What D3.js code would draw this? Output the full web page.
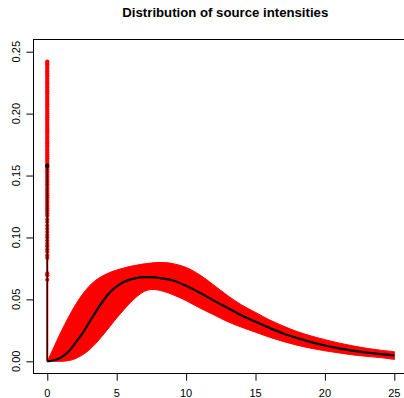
<!DOCTYPE html>
<html>
<head>
<meta charset="utf-8">
<script src="https://cdn.jsdelivr.net/npm/d3@7"></script>
<style>
  html, body { margin: 0; padding: 0; background: #fff; }
  svg { display: block; font-family: "Liberation Sans", Arial, Helvetica, sans-serif; }
</style>
</head>
<body>
<svg id="chart" width="404" height="398"></svg>
<script>
// Axis ticks
const xTicks = [0, 5, 10, 15, 20, 25];
const xTickLabels = ["0", "5", "10", "15", "20", "25"];
const yTicks = [0, 0.05, 0.10, 0.15, 0.20, 0.25];
const yTickLabels = ["0.00", "0.05", "0.10", "0.15", "0.20", "0.25"];

// Intensity grid shared by the density curves
const grid = [0, 0.5, 1, 1.5, 2, 2.5, 3, 3.5, 4, 4.5, 5, 5.5, 6, 6.5, 7, 7.5, 8, 8.5, 9,
              10, 11, 12, 13, 14, 15, 16, 17, 18, 19, 20, 21, 22, 23, 24, 25];

// Upper and lower edges of the bundle of sampled densities
const upperDensity = [0, 0.012, 0.024, 0.035, 0.045, 0.0535, 0.0605, 0.0655, 0.069, 0.0717, 0.0737, 0.0753, 0.0767, 0.0778, 0.0787, 0.0794, 0.0798, 0.0797, 0.079,
                      0.0758, 0.0697, 0.0615, 0.053, 0.0455, 0.0395, 0.0335, 0.0285, 0.024, 0.0205, 0.0175, 0.0148, 0.0125, 0.0105, 0.009, 0.0078];
const lowerDensity = [0, 0, 0, 0.0005, 0.002, 0.005, 0.009, 0.0145, 0.021, 0.028, 0.035, 0.0415, 0.0475, 0.0527, 0.0565, 0.058, 0.0575, 0.056, 0.054,
                      0.049, 0.043, 0.0375, 0.032, 0.0275, 0.0235, 0.0195, 0.016, 0.013, 0.0105, 0.0085, 0.0068, 0.0052, 0.004, 0.003, 0.0015];

// Posterior mean density
const meanDensity = [0, 0.0009, 0.0032, 0.0075, 0.0145, 0.022, 0.031, 0.040, 0.0485, 0.0555, 0.0605, 0.064, 0.0662, 0.0674, 0.0679, 0.0679, 0.0674, 0.0666, 0.0655,
                     0.061, 0.0553, 0.049, 0.043, 0.037, 0.032, 0.027, 0.0225, 0.0188, 0.0155, 0.0128, 0.0105, 0.0087, 0.0071, 0.0058, 0.0047];

// Sampled probability mass at zero intensity, and its mean
const zeroMass = [0.242, 0.241, 0.2398, 0.2385, 0.237, 0.2355, 0.234, 0.2325, 0.231, 0.2295, 0.228, 0.2265, 0.225, 0.224, 0.2225, 0.221,
                  0.2195, 0.218, 0.2165, 0.215, 0.2135, 0.212, 0.2105, 0.209, 0.2075, 0.206, 0.2045, 0.203, 0.2015, 0.2,
                  0.1985, 0.197, 0.1955, 0.194, 0.1925, 0.191, 0.1895, 0.188, 0.1865, 0.185, 0.1835, 0.182, 0.1805, 0.179,
                  0.1775, 0.176, 0.1745, 0.173, 0.1715, 0.17, 0.1685, 0.167, 0.1655, 0.164, 0.1625, 0.161, 0.1595, 0.158,
                  0.1565, 0.155, 0.1535, 0.152, 0.1505, 0.149, 0.1475, 0.146, 0.1445, 0.143, 0.1415, 0.14, 0.1385, 0.137,
                  0.1355, 0.134, 0.1325, 0.131, 0.1295, 0.128, 0.1265, 0.125, 0.1235, 0.122, 0.1205, 0.119, 0.1175,
                  0.1145, 0.1125, 0.1095, 0.107, 0.1045, 0.102, 0.1, 0.0975, 0.095, 0.093, 0.0905, 0.0885, 0.0855, 0.0835,
                  0.071, 0.0695, 0.0658];
const meanZeroMass = 0.158;

const svg = d3.select("#chart");

const x = d3.scaleLinear().domain([-1, 26]).range([33.4, 408.2]);
const y = d3.scaleLinear().domain([-0.01, 0.26]).range([373.7, 39.3]);

const band = grid.map((g, i) => ({ g, lo: lowerDensity[i], hi: upperDensity[i] }));
const meanPts = grid.map((g, i) => ({ g, v: meanDensity[i] }));

// Bundle of sampled densities
svg.append("path")
  .datum(band)
  .attr("fill", "#ff0000")
  .attr("stroke", "#ff0000")
  .attr("stroke-width", 1)
  .attr("d", d3.area().curve(d3.curveCatmullRom)
    .x(d => x(d.g)).y0(d => y(d.lo)).y1(d => y(d.hi)));

// Point masses at zero: vertical drop and one dot per sample
svg.append("line")
  .attr("x1", x(0)).attr("x2", x(0))
  .attr("y1", y(0)).attr("y2", y(d3.max(zeroMass)))
  .attr("stroke", "#ff0000").attr("stroke-width", 2);

svg.append("g").selectAll("circle")
  .data(zeroMass)
  .join("circle")
  .attr("cx", x(0))
  .attr("cy", d => y(d))
  .attr("r", 2.1)
  .attr("fill", "#ff0000");

// Mean density with its zero mass
svg.append("line")
  .attr("x1", x(0)).attr("x2", x(0))
  .attr("y1", y(0)).attr("y2", y(meanZeroMass))
  .attr("stroke", "#000").attr("stroke-width", 1.2);

svg.append("path")
  .datum(meanPts)
  .attr("fill", "none")
  .attr("stroke", "#000")
  .attr("stroke-width", 2.2)
  .attr("d", d3.line().curve(d3.curveCatmullRom).x(d => x(d.g)).y(d => y(d.v)));

svg.append("circle")
  .attr("cx", x(0)).attr("cy", y(meanZeroMass))
  .attr("r", 2.2).attr("fill", "#000");

// Axes
const xAxis = svg.append("g")
  .attr("transform", `translate(0,${373.7})`)
  .call(d3.axisBottom(x).tickValues(xTicks).tickSize(7).tickFormat(""));
xAxis.select(".domain").remove();
xAxis.selectAll(".tick line").attr("stroke", "#000");

svg.append("g").selectAll("text")
  .data(xTicks)
  .join("text")
  .attr("x", d => x(d))
  .attr("y", 397.3)
  .attr("text-anchor", "middle")
  .attr("font-size", 11)
  .attr("fill", "#000")
  .text((d, i) => xTickLabels[i]);

const yAxis = svg.append("g")
  .attr("transform", `translate(${33.4},0)`)
  .call(d3.axisLeft(y).tickValues(yTicks).tickSize(7).tickFormat(""));
yAxis.select(".domain").remove();
yAxis.selectAll(".tick line").attr("stroke", "#000");

svg.append("g").selectAll("text")
  .data(yTicks)
  .join("text")
  .attr("transform", d => `translate(${19.6},${y(d)}) rotate(-90)`)
  .attr("text-anchor", "middle")
  .attr("font-size", 11)
  .attr("fill", "#000")
  .text((d, i) => yTickLabels[i]);

// Plot frame
svg.append("rect")
  .attr("x", 33.5).attr("y", 39.5)
  .attr("width", 408.2 - 33.5).attr("height", 373.5 - 39.5)
  .attr("fill", "none").attr("stroke", "#000").attr("stroke-width", 1);

// Title
svg.append("text")
  .attr("x", 225.3)
  .attr("y", 16.8)
  .attr("text-anchor", "middle")
  .attr("font-size", 13.2)
  .attr("font-weight", "bold")
  .attr("fill", "#000")
  .text("Distribution of source intensities");
</script>
</body>
</html>
